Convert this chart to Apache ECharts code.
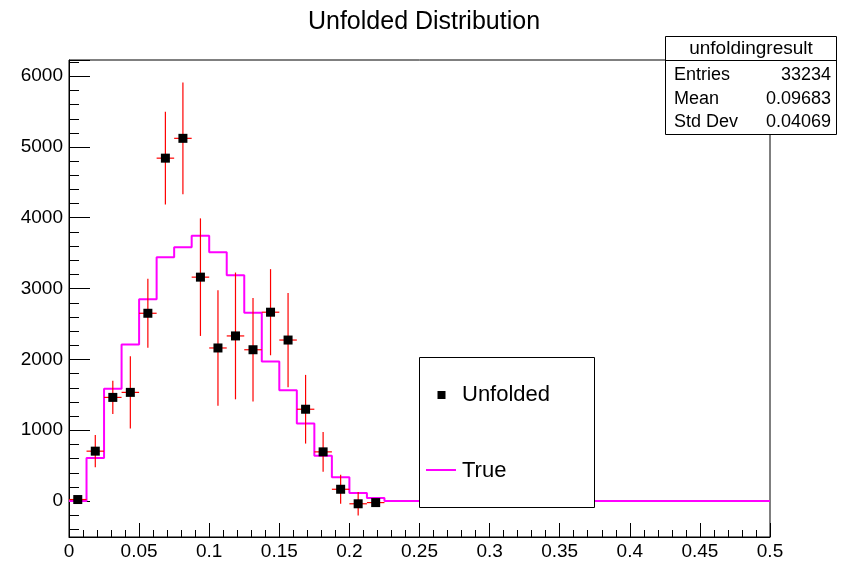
<!DOCTYPE html>
<html>
<head>
<meta charset="utf-8">
<script src="https://cdn.jsdelivr.net/npm/echarts@6/dist/echarts.min.js"></script>
<style>
  html, body { margin: 0; padding: 0; background: #fff; }
  #main { width: 841px; height: 562px; }
</style>
</head>
<body>
<div id="main"></div>
<script>
// histogram binning
var binWidth = 0.0125;
var nBins = 40;

// axis ranges
var xMin = 0, xMax = 0.5, xStep = 0.05;
var yMin = -509, yMax = 6226, yMinorStep = 200;

// "True" histogram contents, one per bin
var trueCounts = [0, 607, 1583, 2210, 2848, 3440, 3582, 3746, 3512, 3188, 2659, 1970, 1562, 1092, 639, 333, 112, 41,
  0, 0, 0, 0, 0, 0, 0, 0, 0, 0, 0, 0, 0, 0, 0, 0, 0, 0, 0, 0, 0, 0];

// unfolded points (only bins that are drawn)
var unfoldedVals = [20, 703, 1462, 1533, 2650, 4840, 5120, 3160, 2160, 2330, 2135, 2665, 2272, 1295, 693, 165, -40, -23];
var unfoldedErrs = [25, 228, 236, 509, 486, 655, 790, 830, 815, 895, 730, 608, 665, 485, 280, 205, 165, 20];

// stat box
var statTitle = 'unfoldingresult';
var statNames = ['Entries', 'Mean', 'Std Dev'];
var statValues = ['33234', '0.09683', '0.04069'];

var FONT = '"Liberation Sans", Arial, Helvetica, sans-serif';

window.onload = function () {
  var chart = echarts.init(document.getElementById('main'));

  // step line through bin edges
  var trueData = [];
  for (var i = 0; i < nBins; i++) {
    trueData.push([i * binWidth, trueCounts[i]]);
  }
  trueData.push([nBins * binWidth, trueCounts[nBins - 1]]);

  var pts = [];
  for (var j = 0; j < unfoldedVals.length; j++) {
    pts.push([(j + 0.5) * binWidth, unfoldedVals[j], unfoldedErrs[j]]);
  }

  // y minor ticks (every 200, skipping the labelled 1000s)
  var yMinor = [];
  for (var v = Math.ceil(yMin / yMinorStep) * yMinorStep; v < yMax; v += yMinorStep) {
    if (v % 1000 !== 0) yMinor.push([xMin, v]);
  }

  function renderErr(params, api) {
    var x = api.value(0), y = api.value(1), e = api.value(2);
    var top = api.coord([x, y + e]);
    var bot = api.coord([x, y - e]);
    var l = api.coord([x - binWidth / 2, y]);
    var r = api.coord([x + binWidth / 2, y]);
    var st = { stroke: '#ff0000', lineWidth: 1.2 };
    return {
      type: 'group',
      children: [
        { type: 'line', shape: { x1: top[0], y1: top[1], x2: bot[0], y2: bot[1] }, style: st },
        { type: 'line', shape: { x1: l[0], y1: l[1], x2: r[0], y2: r[1] }, style: st }
      ]
    };
  }

  function renderYMinor(params, api) {
    var p = api.coord([api.value(0), api.value(1)]);
    var y = Math.round(p[1]) + 0.5;
    return {
      type: 'line',
      shape: { x1: p[0], y1: y, x2: p[0] + 10, y2: y },
      style: { stroke: '#000', lineWidth: 1 }
    };
  }

  var axisTxt = { color: '#000', fontSize: 19, fontFamily: FONT };
  var tickStyle = { color: '#000', width: 1 };

  var option = {
    backgroundColor: '#fff',
    animation: false,
    title: {
      text: 'Unfolded Distribution',
      left: 419,
      textAlign: 'center',
      top: 5,
      textStyle: { color: '#000', fontSize: 25, fontWeight: 'normal', fontFamily: FONT }
    },
    grid: {
      left: 69, right: 71, top: 60, bottom: 25,
      show: true, borderColor: '#000', borderWidth: 1
    },
    xAxis: {
      type: 'value', min: xMin, max: xMax, interval: xStep,
      axisLine: { show: true, onZero: false, lineStyle: { color: '#000', width: 1 } },
      axisTick: { show: true, inside: true, length: 14, lineStyle: tickStyle },
      minorTick: { show: true, splitNumber: 5, length: 7, lineStyle: tickStyle },
      splitLine: { show: false },
      axisLabel: Object.assign({ margin: 5 }, axisTxt)
    },
    yAxis: {
      type: 'value', min: yMin, max: yMax, splitNumber: 6,
      axisLine: { show: true, onZero: false, lineStyle: { color: '#000', width: 1 } },
      axisTick: { show: true, inside: true, length: 21, lineStyle: tickStyle },
      splitLine: { show: false },
      axisLabel: Object.assign({
        margin: 6,
        formatter: function (v) { return v % 1000 === 0 ? String(v) : ''; }
      }, axisTxt)
    },
    series: [{
      name: 'True',
      type: 'line',
      step: 'end',
      data: trueData,
      showSymbol: false,
      lineStyle: { color: '#ff00ff', width: 2 },
      itemStyle: { color: '#ff00ff' },
      z: 2
    }, {
      name: 'err',
      type: 'custom',
      renderItem: renderErr,
      data: pts,
      silent: true,
      z: 3
    }, {
      name: 'Unfolded',
      type: 'scatter',
      data: pts,
      symbol: 'rect',
      symbolSize: 9,
      itemStyle: { color: '#000', opacity: 1 },
      silent: true,
      z: 4
    }, {
      name: 'yminor',
      type: 'custom',
      renderItem: renderYMinor,
      data: yMinor,
      clip: false,
      silent: true,
      z: 5
    }],
    graphic: [
      // legend box
      { type: 'rect', z: 100, shape: { x: 419.5, y: 357.5, width: 175, height: 150 },
        style: { fill: '#fff', stroke: '#000', lineWidth: 1 } },
      { type: 'rect', z: 101, shape: { x: 437.5, y: 391, width: 8, height: 8 }, style: { fill: '#000' } },
      { type: 'text', z: 101, x: 462, y: 395,
        style: { text: 'Unfolded', fill: '#000', fontSize: 22, fontFamily: FONT, verticalAlign: 'middle' } },
      { type: 'line', z: 101, shape: { x1: 426, y1: 470, x2: 456, y2: 470 },
        style: { stroke: '#ff00ff', lineWidth: 2 } },
      { type: 'text', z: 101, x: 462, y: 471,
        style: { text: 'True', fill: '#000', fontSize: 22, fontFamily: FONT, verticalAlign: 'middle' } },
      // stat box
      { type: 'rect', z: 100, shape: { x: 665.5, y: 36.5, width: 171, height: 98 },
        style: { fill: '#fff', stroke: '#000', lineWidth: 1 } },
      { type: 'line', z: 101, shape: { x1: 665.5, y1: 60.5, x2: 836.5, y2: 60.5 },
        style: { stroke: '#000', lineWidth: 1 } },
      { type: 'text', z: 101, x: 751, y: 49,
        style: { text: statTitle, fill: '#000', fontSize: 19, fontFamily: FONT, align: 'center', verticalAlign: 'middle' } },
      { type: 'text', z: 101, x: 674, y: 75,
        style: { text: statNames[0], fill: '#000', fontSize: 18, fontFamily: FONT, verticalAlign: 'middle' } },
      { type: 'text', z: 101, x: 831, y: 75,
        style: { text: statValues[0], fill: '#000', fontSize: 18, fontFamily: FONT, align: 'right', verticalAlign: 'middle' } },
      { type: 'text', z: 101, x: 674, y: 99,
        style: { text: statNames[1], fill: '#000', fontSize: 18, fontFamily: FONT, verticalAlign: 'middle' } },
      { type: 'text', z: 101, x: 831, y: 99,
        style: { text: statValues[1], fill: '#000', fontSize: 18, fontFamily: FONT, align: 'right', verticalAlign: 'middle' } },
      { type: 'text', z: 101, x: 674, y: 122,
        style: { text: statNames[2], fill: '#000', fontSize: 18, fontFamily: FONT, verticalAlign: 'middle' } },
      { type: 'text', z: 101, x: 831, y: 122,
        style: { text: statValues[2], fill: '#000', fontSize: 18, fontFamily: FONT, align: 'right', verticalAlign: 'middle' } }
    ]
  };

  chart.setOption(option);
};
</script>
</body>
</html>
